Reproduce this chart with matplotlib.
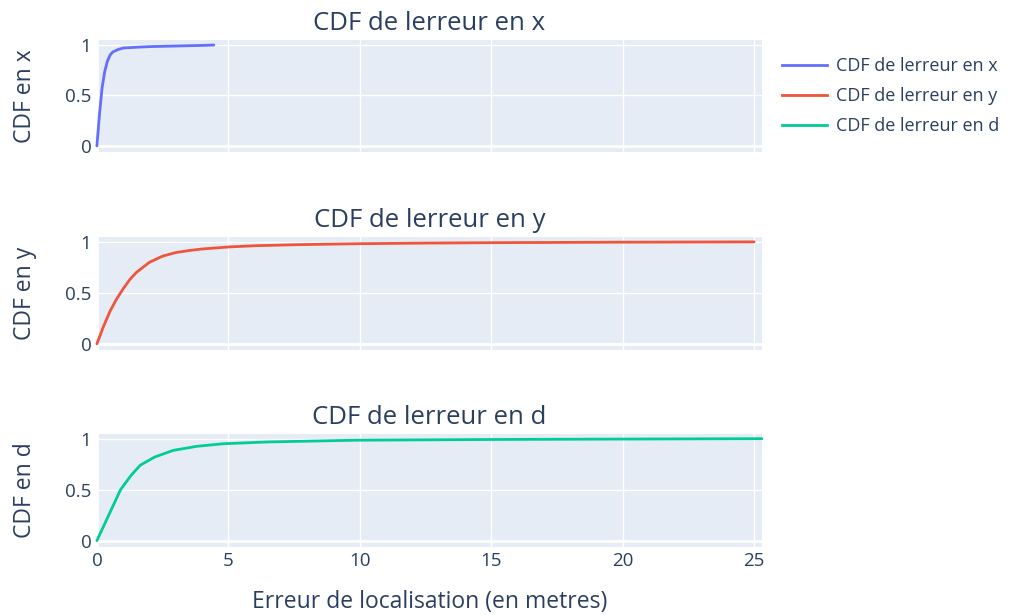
"""CDF plots of the localisation error along x, y and distance d."""

import matplotlib.pyplot as plt
from matplotlib.lines import Line2D

# Empirical CDF points for each error component
erreur_x = [0, 0.1, 0.2, 0.3, 0.4, 0.5, 0.6, 0.8, 1.0, 1.5, 2.0, 3.0, 4.0, 4.45]
cdf_x = [0, 0.32, 0.58, 0.74, 0.84, 0.90, 0.93, 0.955, 0.97, 0.978, 0.984, 0.99, 0.996, 1.0]

erreur_y = [0, 0.25, 0.5, 0.75, 1.0, 1.25, 1.5, 2.0, 2.5, 3.0, 3.5, 4.0, 5.0, 6.0,
            7.5, 10, 12.5, 15, 20, 25]
cdf_y = [0, 0.17, 0.32, 0.44, 0.54, 0.63, 0.70, 0.80, 0.86, 0.895, 0.915, 0.93, 0.95,
         0.962, 0.972, 0.982, 0.988, 0.992, 0.997, 1.0]

erreur_d = [0, 0.9, 1.3, 1.65, 2.2, 2.9, 3.8, 4.8, 6.5, 9.9, 15, 20, 25.3]
cdf_d = [0, 0.50, 0.64, 0.74, 0.82, 0.885, 0.925, 0.95, 0.968, 0.985, 0.992, 0.996, 1.0]

noms = ["CDF de lerreur en x", "CDF de lerreur en y", "CDF de lerreur en d"]
ylabels = ["CDF en x", "CDF en y", "CDF en d"]
couleurs = ["#636efa", "#EF553B", "#00cc96"]

x_ticks = [0, 5, 10, 15, 20, 25]
y_ticks = [0, 0.5, 1]
y_ticklabels = ["0", "0.5", "1"]

TEXT = "#2a3f5f"
BG = "#E5ECF6"

plt.rcParams["font.family"] = ["Open Sans", "DejaVu Sans"]

fig = plt.figure(figsize=(10.2, 6.15), dpi=100)

# axes rectangles in figure fractions (left, bottom, width, height)
rects = [
    (0.095, 0.753, 0.652, 0.182),
    (0.095, 0.431, 0.652, 0.184),
    (0.095, 0.111, 0.652, 0.184),
]

series = [(erreur_x, cdf_x), (erreur_y, cdf_y), (erreur_d, cdf_d)]
axes = []
for i, (rect, (xs, ys)) in enumerate(zip(rects, series)):
    ax = fig.add_axes(rect)
    axes.append(ax)
    ax.set_facecolor(BG)
    for s in ax.spines.values():
        s.set_visible(False)

    ax.plot(xs, ys, color=couleurs[i], linewidth=2.0, solid_capstyle="round",
            zorder=3, clip_on=False)

    ax.set_xlim(0, 25.3)
    ax.set_ylim(-0.06, 1.05)
    ax.set_xticks(x_ticks)
    ax.set_yticks(y_ticks)
    ax.set_yticklabels(y_ticklabels)
    ax.grid(True, color="white", linewidth=1.0)
    ax.set_axisbelow(True)
    ax.axhline(0, color="white", linewidth=2.0, zorder=1)
    ax.axvline(0, color="white", linewidth=2.0, zorder=1)
    ax.tick_params(length=0, labelsize=13.5, labelcolor=TEXT, pad=4)
    if i < 2:
        ax.tick_params(labelbottom=False)

    ax.set_title(noms[i], fontsize=18.5, color=TEXT, pad=7)
    ax.set_ylabel(ylabels[i], fontsize=16.5, color=TEXT)
    ax.yaxis.set_label_coords(-0.09, 0.5)

axes[2].set_xlabel("Erreur de localisation (en metres)", fontsize=16.5, color=TEXT,
                   labelpad=14)

handles = [Line2D([], [], color=c, linewidth=2.0) for c in couleurs]
fig.legend(handles, noms, loc="upper left", bbox_to_anchor=(0.751, 0.934),
           frameon=False, fontsize=13, labelcolor=TEXT, handlelength=2.5,
           handletextpad=0.45, labelspacing=0.68)

fig.savefig("out.png", dpi=100, facecolor="white")
